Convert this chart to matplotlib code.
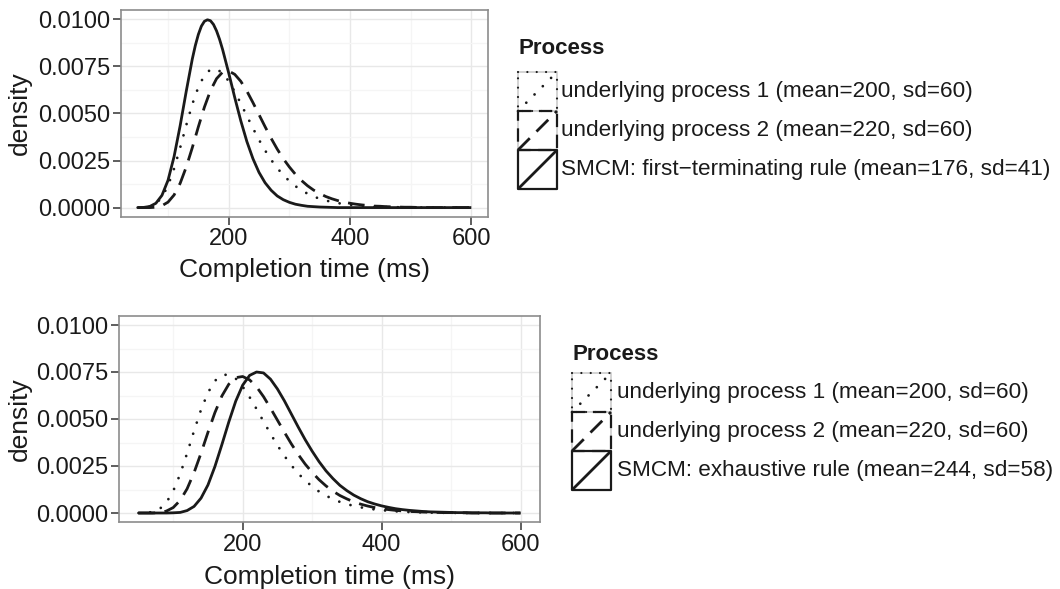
import numpy as np
import matplotlib
matplotlib.use('Agg')
import matplotlib.pyplot as plt
from matplotlib.ticker import FixedLocator, FormatStrFormatter
from matplotlib.patches import Rectangle
from matplotlib.lines import Line2D

plt.rcParams['font.family'] = ['Liberation Sans', 'DejaVu Sans']

# completion time grid (ms)
times = list(range(50, 601, 10))

# underlying process 1 (mean=200, sd=60)
process_1 = [
    0.0, 0.00001, 0.00005, 0.00020, 0.00055, 0.00117, 0.00207, 0.00318,
    0.00437, 0.00549, 0.00640, 0.00703, 0.00734, 0.00736, 0.00715, 0.00672,
    0.00616, 0.00553, 0.00487, 0.00422, 0.00360, 0.00304, 0.00254, 0.00210,
    0.00173, 0.00141, 0.00114, 0.00092, 0.00074, 0.00059, 0.00047, 0.00038,
    0.00030, 0.00024, 0.00019, 0.00015, 0.00012, 0.00009, 0.00007, 0.00005,
    0.00004, 0.00003, 0.00002, 0.00002, 0.00001, 0.00001,
    0.0, 0.0, 0.0, 0.0, 0.0, 0.0, 0.0, 0.0, 0.0, 0.0,
]

# underlying process 2 (mean=220, sd=60)
process_2 = [
    0.0, 0.0, 0.0, 0.00002, 0.00010, 0.00029, 0.00067, 0.00129,
    0.00215, 0.00318, 0.00429, 0.00534, 0.00622, 0.00685, 0.00720, 0.00726,
    0.00708, 0.00671, 0.00619, 0.00558, 0.00494, 0.00430, 0.00368, 0.00311,
    0.00260, 0.00216, 0.00177, 0.00144, 0.00116, 0.00093, 0.00075, 0.00059,
    0.00047, 0.00037, 0.00029, 0.00023, 0.00018, 0.00014, 0.00011, 0.00008,
    0.00007, 0.00005, 0.00004, 0.00003, 0.00002, 0.00002, 0.00001, 0.00001,
    0.0, 0.0, 0.0, 0.0, 0.0, 0.0, 0.0, 0.0,
]

# SMCM: first-terminating rule (mean=176, sd=41), finer steps round the peak
times_first = (list(range(50, 140, 10)) + list(range(140, 191, 5))
               + list(range(200, 601, 10)))
first_terminating = [
    0.0, 0.00001, 0.00006, 0.00023, 0.00065, 0.00145, 0.00271, 0.00435,
    0.00617,
    0.00789, 0.00861, 0.00920, 0.00964, 0.00990, 0.00998, 0.00993, 0.00973,
    0.00939, 0.00894, 0.00840,
    0.00716, 0.00585, 0.00461, 0.00351, 0.00260, 0.00187, 0.00132, 0.00092,
    0.00062, 0.00042, 0.00028, 0.00018, 0.00012, 0.00007, 0.00005, 0.00003,
    0.00002, 0.00001,
    0.0, 0.0, 0.0, 0.0, 0.0, 0.0, 0.0, 0.0, 0.0, 0.0, 0.0, 0.0, 0.0, 0.0,
    0.0, 0.0, 0.0, 0.0, 0.0, 0.0, 0.0, 0.0, 0.0,
]

# SMCM: exhaustive rule (mean=244, sd=58)
exhaustive = [
    0.0, 0.0, 0.0, 0.0, 0.0, 0.00001, 0.00003, 0.00013,
    0.00035, 0.00079, 0.00149, 0.00247, 0.00363, 0.00484, 0.00595, 0.00680,
    0.00732, 0.00750, 0.00745, 0.00712, 0.00660, 0.00597, 0.00527, 0.00457,
    0.00390, 0.00329, 0.00273, 0.00224, 0.00183, 0.00147, 0.00119, 0.00095,
    0.00076, 0.00060, 0.00048, 0.00038, 0.00030, 0.00023, 0.00018, 0.00014,
    0.00011, 0.00008, 0.00006, 0.00005, 0.00004, 0.00003, 0.00002, 0.00002,
    0.00001, 0.00001, 0.00001,
    0.0, 0.0, 0.0, 0.0, 0.0,
]

labels_top = [
    'underlying process 1 (mean=200, sd=60)',
    'underlying process 2 (mean=220, sd=60)',
    'SMCM: first\u2212terminating rule (mean=176, sd=41)',
]
labels_bottom = [
    'underlying process 1 (mean=200, sd=60)',
    'underlying process 2 (mean=220, sd=60)',
    'SMCM: exhaustive rule (mean=244, sd=58)',
]

W, H = 1060, 589
INK = '#1a1a1a'
LW = 2.0
styles = [
    dict(linestyle=(0, (0.01, 4.2)), dash_capstyle='round'),
    dict(linestyle=(0, (6.0, 3.4)), dash_capstyle='butt'),
    dict(linestyle='-', solid_capstyle='butt'),
]


def px_rect(left, top, right, bottom):
    return [left / W, 1 - bottom / H, (right - left) / W, (bottom - top) / H]


def style_axes(ax, xlabel_y, ylabel_x):
    ax.set_xlim(22.5, 627.5)
    ax.set_ylim(-0.0005, 0.0105)
    ax.xaxis.set_major_locator(FixedLocator([200, 400, 600]))
    ax.xaxis.set_minor_locator(FixedLocator([100, 300, 500]))
    ax.yaxis.set_major_locator(FixedLocator([0, 0.0025, 0.005, 0.0075, 0.01]))
    ax.yaxis.set_minor_locator(
        FixedLocator([0.00125, 0.00375, 0.00625, 0.00875]))
    ax.yaxis.set_major_formatter(FormatStrFormatter('%.4f'))
    ax.grid(True, which='major', color='#e8e8e8', linewidth=1.0, zorder=0)
    ax.grid(True, which='minor', color='#f5f5f5', linewidth=0.9, zorder=0)
    ax.set_axisbelow(True)
    ax.tick_params(which='major', length=6, width=1.1, color='#333333',
                   labelsize=17, labelcolor=INK, pad=2)
    ax.tick_params(which='minor', length=0)
    for sp in ax.spines.values():
        sp.set_color('#8c8c8c')
        sp.set_linewidth(1.2)
    ax.set_xlabel('Completion time (ms)', fontsize=19, color=INK)
    ax.set_ylabel('density', fontsize=19, color=INK)
    ax.xaxis.label.set_va('center')
    ax.yaxis.label.set_va('center')
    ax.xaxis.set_label_coords(0.5, xlabel_y)
    ax.yaxis.set_label_coords(ylabel_x, 0.5)


def draw_panel(ax, series):
    for (xs, ys), st in zip(series, styles):
        ax.plot(xs, ys, color=INK, linewidth=LW, solid_joinstyle='round',
                **st)


def draw_legend(fig, left, title_y, top, size, text_x, labels):
    fig.text(left / W, 1 - title_y / H, 'Process', fontsize=16,
             fontweight='bold', color=INK, ha='left', va='center')
    for i, (lab, st) in enumerate(zip(labels, styles)):
        t = top + i * size
        b = t + size
        fig.patches.append(Rectangle(
            (left / W, 1 - b / H), size / W, size / H,
            transform=fig.transFigure, facecolor='white',
            edgecolor='#cccccc', linewidth=1.2))
        xs = [left / W, (left + size) / W, (left + size) / W, left / W,
              left / W]
        ys = [1 - t / H, 1 - t / H, 1 - b / H, 1 - b / H, 1 - t / H]
        fig.lines.append(Line2D(xs, ys, transform=fig.transFigure,
                                color=INK, linewidth=1.6, **st))
        fig.lines.append(Line2D([left / W, (left + size) / W],
                                [1 - b / H, 1 - t / H],
                                transform=fig.transFigure,
                                color=INK, linewidth=LW, **st))
        fig.text(text_x / W, 1 - (t + size / 2) / H, lab, fontsize=16.2,
                 color=INK, ha='left', va='center')


fig = plt.figure(figsize=(W / 100, H / 100), dpi=100)

ax_top = fig.add_axes(px_rect(121, 10, 488, 217))
draw_panel(ax_top, [(times, process_1), (times, process_2),
                    (times_first, first_terminating)])
style_axes(ax_top, -0.256, -0.275)

ax_bot = fig.add_axes(px_rect(119.4, 315.6, 539.6, 522.4))
draw_panel(ax_bot, [(times, process_1), (times, process_2),
                    (times, exhaustive)])
style_axes(ax_bot, -0.262, -0.236)

draw_legend(fig, 518, 49, 72, 39, 561, labels_top)
draw_legend(fig, 572, 355, 373, 39, 617, labels_bottom)

fig.savefig('out.png', dpi=100)
